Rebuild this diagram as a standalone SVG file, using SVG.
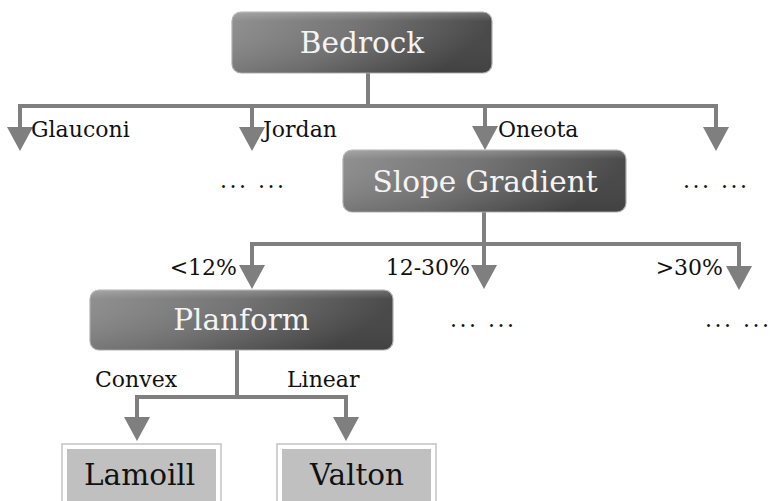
<svg xmlns="http://www.w3.org/2000/svg" width="770" height="501" viewBox="0 0 770 501">
<style>
.box{stroke:#b0b0b0;stroke-width:1.2}
.btxt{font-family:"DejaVu Serif","Liberation Serif",serif;font-size:29.5px;fill:#f4f4f4;text-anchor:middle}
.ltxt{font-family:"DejaVu Serif","Liberation Serif",serif;font-size:22px;fill:#111}
.dots{font-family:"DejaVu Serif","Liberation Serif",serif;font-size:22px;fill:#111;letter-spacing:2.5px}
.leaf-o{fill:#fff;stroke:#c4c4c4;stroke-width:1.5}
.leaf-i{fill:#c0c0c0}
.ftxt{font-family:"DejaVu Serif","Liberation Serif",serif;font-size:29.5px;fill:#111}
.ln{fill:none;stroke:#7f7f7f;stroke-width:4;stroke-linecap:square}
.ar{fill:none;stroke:#7f7f7f;stroke-width:4;marker-end:url(#arr)}
</style>
<defs>
<linearGradient id="g" x1="0" y1="0" x2="1" y2="0.3">
<stop offset="0" stop-color="#929292"/>
<stop offset="0.5" stop-color="#747474"/>
<stop offset="1" stop-color="#474747"/>
</linearGradient>
<linearGradient id="gv" x1="0" y1="0" x2="0" y2="1">
<stop offset="0" stop-color="#ffffff" stop-opacity="0.18"/>
<stop offset="0.15" stop-color="#ffffff" stop-opacity="0"/>
<stop offset="1" stop-color="#000000" stop-opacity="0.08"/>
</linearGradient>
<marker id="arr" markerUnits="userSpaceOnUse" viewBox="0 0 24 26" markerWidth="24" markerHeight="26" refX="0" refY="13" orient="auto">
<path d="M0 0 L24 13 L0 26 Z" fill="#7f7f7f"/>
</marker>
</defs>
<rect width="770" height="501" fill="#fff"/>
<g id="connectors">
<path class="ln" d="M368 73 V106"/>
<path class="ln" d="M20 106 H716"/>
<path class="ar" d="M20 106 V127"/>
<path class="ar" d="M252 106 V127"/>
<path class="ar" d="M485 106 V126"/>
<path class="ar" d="M716 106 V127"/>
<path class="ln" d="M484 212 V244"/>
<path class="ln" d="M252 244 H739"/>
<path class="ar" d="M252 244 V265"/>
<path class="ar" d="M484 244 V265"/>
<path class="ar" d="M739 244 V266"/>
<path class="ln" d="M237 350 V397"/>
<path class="ln" d="M137 397 H346"/>
<path class="ar" d="M137 397 V417"/>
<path class="ar" d="M346 397 V417"/>
</g>
<g id="labels">
<text class="ltxt" x="31" y="137">Glauconi</text>
<text class="ltxt" x="263" y="137">Jordan</text>
<text class="ltxt" x="498" y="137">Oneota</text>
<text class="dots" x="220" y="188">... ...</text>
<text class="dots" x="683" y="188">... ...</text>
<text class="ltxt" x="237" y="275" text-anchor="end">&lt;12%</text>
<text class="ltxt" x="470" y="275" text-anchor="end">12-30%</text>
<text class="ltxt" x="723" y="275" text-anchor="end">&gt;30%</text>
<text class="dots" x="450" y="327">... ...</text>
<text class="dots" x="705" y="327">... ...</text>
<text class="ltxt" x="95" y="387">Convex</text>
<text class="ltxt" x="287" y="387">Linear</text>
</g>
<g id="bedrock">
<rect class="box" x="232" y="12" width="260" height="61" rx="9" fill="url(#g)"/>
<rect x="232" y="12" width="260" height="61" rx="9" fill="url(#gv)"/>
<text class="btxt" x="362" y="53">Bedrock</text>
</g>
<g id="slope-gradient">
<rect class="box" x="343" y="150" width="283" height="62" rx="9" fill="url(#g)"/>
<rect x="343" y="150" width="283" height="62" rx="9" fill="url(#gv)"/>
<text class="btxt" x="485" y="192">Slope Gradient</text>
</g>
<g id="planform">
<rect class="box" x="90" y="290" width="303" height="60" rx="9" fill="url(#g)"/>
<rect x="90" y="290" width="303" height="60" rx="9" fill="url(#gv)"/>
<text class="btxt" x="241.5" y="330">Planform</text>
</g>
<g id="lamoill">
<rect class="leaf-o" x="62" y="444" width="159" height="70"/>
<rect class="leaf-i" x="67" y="449" width="149" height="60"/>
<text class="ftxt" x="84" y="485">Lamoill</text>
</g>
<g id="valton">
<rect class="leaf-o" x="277" y="444" width="159" height="70"/>
<rect class="leaf-i" x="282" y="449" width="149" height="60"/>
<text class="ftxt" x="357" y="485" text-anchor="middle">Valton</text>
</g>
</svg>
